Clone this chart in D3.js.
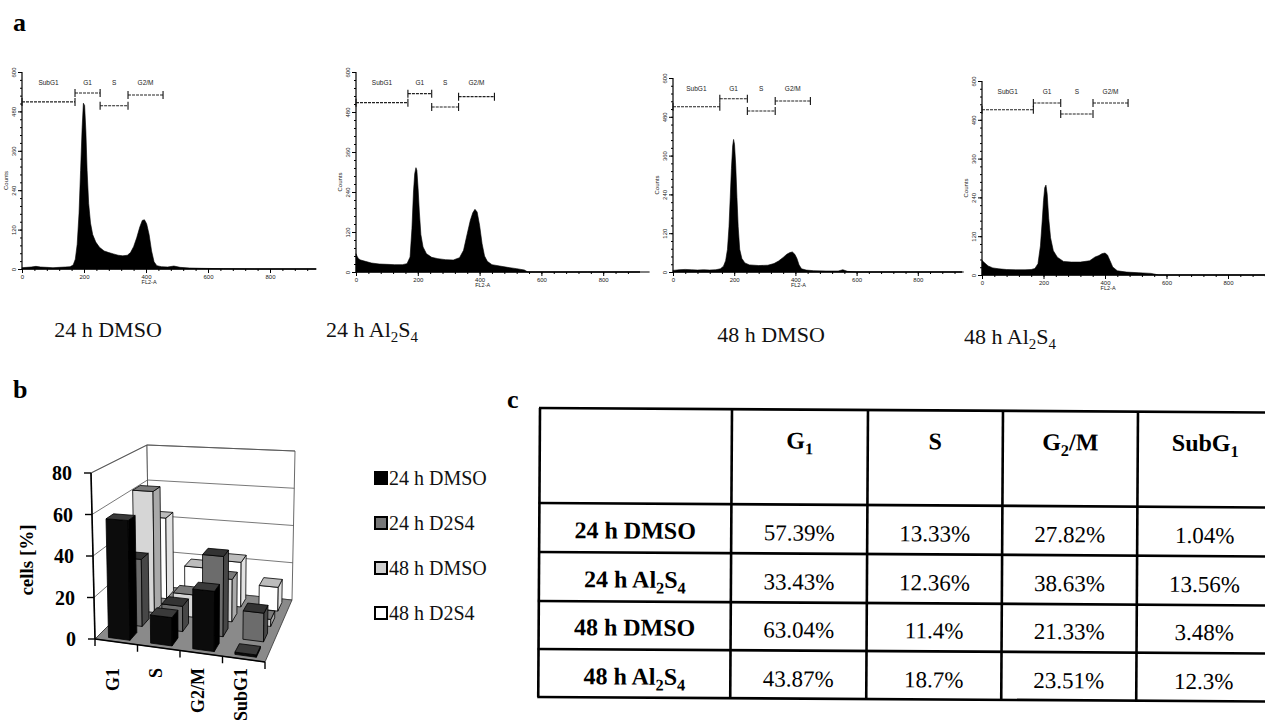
<!DOCTYPE html>
<html><head><meta charset="utf-8">
<script src="https://cdn.jsdelivr.net/npm/d3@7/dist/d3.min.js"></script>
<style>html,body{margin:0;padding:0;background:#fff;}svg{display:block;}</style>
</head><body>
<svg id="fig" width="1265" height="723" xmlns="http://www.w3.org/2000/svg"></svg>
<script>
// ================= DATA =================
const groups = ["24 h DMSO", "24 h Al_2S_4", "48 h DMSO", "48 h Al_2S_4"];
const legendLabels = ["24 h DMSO", "24 h D2S4", "48 h DMSO", "48 h D2S4"];
const phases = ["G1", "S", "G2/M", "SubG1"];
const tableHeaders = ["G_1", "S", "G_2/M", "SubG_1"];
const dmso24 = [57.39, 13.33, 27.82, 1.04];
const al24   = [33.43, 12.36, 38.63, 13.56];
const dmso48 = [63.04, 11.4, 21.33, 3.48];
const al48   = [43.87, 18.7, 23.51, 12.3];
const seriesValues = [dmso24, al24, dmso48, al48];
const cellTicks = [0, 20, 40, 60, 80];

const gateNames = ["SubG1", "G1", "S", "G2/M"];
const histXTicks = [0, 200, 400, 600, 800];
const histYTicks = [0, 120, 240, 360, 480, 600];

// histogram profiles (FL2-A channel, counts)
const h1Channels = [0,15,30,45,60,80,100,120,140,155, 165,172,178,184,189,194,198,202,206,210, 215,221,228,238,250,265,280,295,310,325, 340,350,360,370,380,388,395,402,410,418, 426,435,450,470,490,510,540,580,650,750, 950];
const h1Counts   = [4,5,6,8,6,5,4,5,6,7, 12,30,75,170,300,430,505,498,420,300, 200,140,105,82,66,55,50,46,42,40, 42,50,68,95,128,148,150,138,105,55, 22,10,7,6,9,5,3,2,1,0, 0];
const h2Channels = [0,3,8,15,30,50,75,100,125,150, 165,175,181,186,190,194,197,201,205,210, 217,228,245,265,290,315,335,348,360,370, 378,385,392,400,408,416,425,440,465,490, 520,545,556,580,750,950];
const h2Counts   = [55,48,40,36,32,27,24,23,22,22, 25,45,130,240,295,313,305,250,180,112, 75,55,44,40,37,36,43,65,115,155, 178,188,180,140,85,48,32,22,18,14, 10,6,0,0,0,0];
const h3Channels = [0,20,40,60,80,100,120,140,155,165, 172,178,183,187,191,195,198,201,205,209, 213,218,225,235,250,280,310,330,345,360, 372,382,390,398,405,412,420,435,460,500, 540,555,570,600,950];
const h3Counts   = [5,7,8,7,6,7,6,7,10,18, 35,70,140,230,320,390,410,395,330,230, 140,70,42,28,22,20,21,26,34,45, 55,60,62,55,42,22,10,6,4,3, 3,7,2,0,0];
const h4Channels = [0,4,10,20,35,55,80,110,140,160, 172,182,190,196,200,204,208,212,217,223, 232,245,265,290,320,350,368,380,390,400, 408,416,425,440,470,510,550,575,950];
const h4Counts   = [45,42,36,28,22,19,17,16,16,17, 20,35,90,170,230,270,278,250,175,115, 75,55,42,40,40,44,56,60,66,68, 62,45,25,13,9,7,5,0,0];
const histChannels = [h1Channels, h2Channels, h3Channels, h4Channels];
const histCounts = [h1Counts, h2Counts, h3Counts, h4Counts];

// gate markers [start channel, end channel, marker level in counts]
const h1Gates = [[0,171,509],[171,252,536],[252,342,497],[342,455,530]];
const h2Gates = [[0,168,508],[168,245,535],[245,332,495],[332,448,526]];
const h3Gates = [[0,153,511],[153,243,536],[243,334,498],[334,449,529]];
const h4Gates = [[0,167,511],[167,256,532],[256,361,498],[361,475,532]];
const histGates = [h1Gates, h2Gates, h3Gates, h4Gates];

// ================= LAYOUT =================
const serif = "'Liberation Serif','Times New Roman',serif";
const sans = "'Liberation Sans',Arial,sans-serif";
const svg = d3.select("#fig");

function rich(sel, str, size){
  const parts = str.split(/_(\d)/);
  let down = false;
  parts.forEach((p,i)=>{
    if(p === "") return;
    const isSub = i % 2 === 1;
    const t = sel.append("tspan").text(p);
    if(isSub){ t.attr("font-size", size*0.68); if(!down){ t.attr("dy", size*0.24); down = true; } }
    else { t.attr("font-size", size); if(down){ t.attr("dy", -size*0.24); down = false; } }
  });
}

// panel letters
[["a",13,31],["b",13,398],["c",507,408]].forEach(([l,x,y])=>{
  svg.append("text").attr("x",x).attr("y",y).attr("font-family",serif).attr("font-weight","bold")
    .attr("font-size",26).text(l);
});

// ================= PANEL A: histograms =================
const histLayout = [
  {x0:22,  kx:0.310,  base:269, top:72, xEnd:316,  capX:108,  capY:337},
  {x0:356, kx:0.309,  base:272, top:72, xEnd:640,  capX:372,  capY:337},
  {x0:673, kx:0.306,  base:272, top:78, xEnd:962,  capX:771,  capY:342},
  {x0:982, kx:0.3075, base:275, top:81, xEnd:1265, capX:1010, capY:344}
];

histLayout.forEach((L,k)=>{
  const g = svg.append("g");
  const x = d3.scaleLinear().domain([0,1000]).range([L.x0, L.x0 + 1000*L.kx]);
  const y = d3.scaleLinear().domain([0,600]).range([L.base, L.top]);
  const pts = histChannels[k].map((c,i)=>[c, histCounts[k][i]]);
  g.append("path").datum(pts)
    .attr("d", d3.area().x(d=>x(d[0])).y0(y(0)).y1(d=>y(d[1])))
    .attr("fill","#000").attr("stroke","#000").attr("stroke-width",0.6);

  // x axis
  const ax = g.append("g").attr("transform",`translate(0,${L.base})`)
    .call(d3.axisBottom(x).tickValues(histXTicks).tickSize(4).tickFormat(d3.format("d")));
  ax.select(".domain").remove();
  ax.selectAll("text").attr("font-size",6).attr("font-family",sans).attr("y",6).attr("fill","#222");
  const axm = g.append("g").attr("transform",`translate(0,${L.base})`)
    .call(d3.axisBottom(x).tickValues(d3.range(0, (L.xEnd-L.x0)/L.kx, 40)).tickSize(2).tickFormat(""));
  axm.select(".domain").remove();
  g.append("line").attr("x1",L.x0).attr("x2",L.xEnd).attr("y1",L.base).attr("y2",L.base)
    .attr("stroke","#000").attr("stroke-width",1.6);
  g.append("text").attr("x",x(410)).attr("y",L.base+15).attr("text-anchor","middle")
    .attr("font-family",sans).attr("font-size",5.5).attr("fill","#222").text("FL2-A");

  // y axis
  const ay = g.append("g").attr("transform",`translate(${L.x0},0)`)
    .call(d3.axisLeft(y).tickValues(histYTicks).tickSize(4));
  ay.select(".domain").remove();
  ay.selectAll("text").attr("font-size",6).attr("font-family",sans).attr("x",0).attr("dy",0)
    .attr("text-anchor","middle").attr("transform","translate(-6,0) rotate(-90)").attr("fill","#222");
  const aym = g.append("g").attr("transform",`translate(${L.x0},0)`)
    .call(d3.axisLeft(y).tickValues(d3.range(0,600,24)).tickSize(2).tickFormat(""));
  aym.select(".domain").remove();
  g.append("line").attr("x1",L.x0).attr("x2",L.x0).attr("y1",L.base).attr("y2",L.top)
    .attr("stroke","#000").attr("stroke-width",1.2);
  g.append("text").attr("transform",`translate(${L.x0-14},${(L.top+L.base)/2+10}) rotate(-90)`)
    .attr("text-anchor","middle").attr("font-family",sans).attr("font-size",6).attr("fill","#222").text("Counts");

  // gates
  histGates[k].forEach((gt,m)=>{
    const [s,e,lv] = gt; const yy = y(lv);
    g.append("line").attr("x1",x(s)).attr("x2",x(e)).attr("y1",yy).attr("y2",yy)
      .attr("stroke","#222").attr("stroke-width",1.1).attr("stroke-dasharray","3,1");
    [s,e].forEach(c=> g.append("line").attr("x1",x(c)).attr("x2",x(c)).attr("y1",yy-4).attr("y2",yy+4)
      .attr("stroke","#111").attr("stroke-width",1.1));
    g.append("text").attr("x",(x(s)+x(e))/2).attr("y",L.top+13).attr("text-anchor","middle")
      .attr("font-family",sans).attr("font-size",6.5).attr("fill","#222").text(gateNames[m]);
  });

  // caption
  const t = svg.append("text").attr("x",L.capX).attr("y",L.capY).attr("text-anchor","middle")
    .attr("font-family",serif).attr("font-size",22).attr("fill","#111");
  rich(t, groups[k], 22);
});

// ================= PANEL B: 3D bar chart =================
const box = {FLB:[95,639], FLT:[91,473], FRB:[265,662], FRT:[268,483],
             BLB:[149,585], BLT:[147,445], BRB:[292,600], BRT:[295,451]};
const uBand = d3.scaleBand().domain(phases).range([0,1]);
const wBand = d3.scaleBand().domain(legendLabels).range([0,1]);
const vLin = d3.scaleLinear().domain([0,80]).range([0,1]);
const lerp = (a,b,t)=>[a[0]+(b[0]-a[0])*t, a[1]+(b[1]-a[1])*t];
function P(u,v,w){
  const f = lerp(lerp(box.FLB, box.FRB, u), lerp(box.FLT, box.FRT, u), v);
  const b = lerp(lerp(box.BLB, box.BRB, u), lerp(box.BLT, box.BRT, u), v);
  return lerp(f,b,w);
}
const poly = pts => "M" + pts.map(p=>p[0].toFixed(2)+","+p[1].toFixed(2)).join("L") + "Z";
const pline = pts => "M" + pts.map(p=>p[0].toFixed(2)+","+p[1].toFixed(2)).join("L");

const gb = svg.append("g");
gb.append("path").attr("d", poly([P(0,0,0),P(0,0,1),P(0,1,1),P(0,1,0)])).attr("fill","#fff").attr("stroke","#444").attr("stroke-width",0.8);
gb.append("path").attr("d", poly([P(0,0,1),P(1,0,1),P(1,1,1),P(0,1,1)])).attr("fill","#fff").attr("stroke","#444").attr("stroke-width",0.8);
cellTicks.filter(t=>t>0).forEach(t=>{
  const v = vLin(t);
  gb.append("path").attr("d", pline([P(0,v,0),P(0,v,1),P(1,v,1)])).attr("fill","none")
    .attr("stroke","#555").attr("stroke-width",0.8);
});
gb.append("path").attr("d", poly([P(0,0,0),P(1,0,0),P(1,0,1),P(0,0,1)])).attr("fill","#8a8a8a").attr("stroke","#333").attr("stroke-width",0.8);

const frontC = ["#0c0c0c","#6c6c6c","#d6d6d6","#ffffff"];
const sideC  = ["#000000","#474747","#a9a9a9","#e2e2e2"];
const topC   = ["#3a3a3a","#333333","#7a7a7a","#bcbcbc"];
const bars = [];
legendLabels.forEach((s,j)=> phases.forEach((p,i)=> bars.push({j,i,s,p,val:seriesValues[j][i]})));
bars.sort((a,b)=> (b.j - a.j) || (a.i - b.i));
const bw = uBand.bandwidth(), bd = wBand.bandwidth();
gb.selectAll("g.bar").data(bars).join("g").attr("class","bar").each(function(d){
  const u0 = uBand(d.p) + bw*0.25, u1 = uBand(d.p) + bw*0.76;
  const w0 = wBand(d.s) + bd*0.22, w1 = wBand(d.s) + bd*0.78;
  const v = vLin(d.val);
  const g = d3.select(this);
  const add = (pts,fill)=> g.append("path").attr("d",poly(pts)).attr("fill",fill)
    .attr("stroke","#000").attr("stroke-width",0.8).attr("stroke-linejoin","round");
  add([P(u0,0,w0),P(u1,0,w0),P(u1,v,w0),P(u0,v,w0)], frontC[d.j]);
  add([P(u1,0,w0),P(u1,0,w1),P(u1,v,w1),P(u1,v,w0)], sideC[d.j]);
  add([P(u0,v,w0),P(u1,v,w0),P(u1,v,w1),P(u0,v,w1)], topC[d.j]);
});

// axes
gb.append("path").attr("d", pline([P(0,0,0),P(0,1,0)])).attr("stroke","#000").attr("stroke-width",1.6).attr("fill","none");
gb.append("path").attr("d", pline([P(0,0,0),P(1,0,0)])).attr("stroke","#000").attr("stroke-width",1.6).attr("fill","none");
cellTicks.forEach(t=>{
  const p = P(0,vLin(t),0);
  gb.append("line").attr("x1",p[0]-7).attr("x2",p[0]).attr("y1",p[1]).attr("y2",p[1]).attr("stroke","#000").attr("stroke-width",1.4);
  gb.append("text").attr("x",p[0]-19).attr("y",p[1]+7).attr("text-anchor","end")
    .attr("font-family",serif).attr("font-weight","bold").attr("font-size",20).text(t);
});
phases.map(p=>uBand(p)).concat([1]).forEach(u=>{
  const p = P(u,0,0);
  gb.append("line").attr("x1",p[0]).attr("x2",p[0]).attr("y1",p[1]).attr("y2",p[1]+7).attr("stroke","#000").attr("stroke-width",1.4);
});
phases.forEach(ph=>{
  const c = P(uBand(ph)+bw/2, 0, 0);
  gb.append("text").attr("transform",`translate(${c[0]+3},668) rotate(-90)`).attr("text-anchor","end")
    .attr("font-family",serif).attr("font-weight","bold").attr("font-size",18).text(ph);
});
gb.append("text").attr("transform","translate(33,560) rotate(-90)").attr("text-anchor","middle")
  .attr("font-family",serif).attr("font-weight","bold").attr("font-size",19).text("cells [%]");

// legend
const legFill = ["#000","#777","#cfcfcf","#fff"];
legendLabels.forEach((lab,j)=>{
  const cy = 478 + j*45;
  svg.append("rect").attr("x",375).attr("y",cy-6).attr("width",12).attr("height",12)
    .attr("fill",legFill[j]).attr("stroke","#000").attr("stroke-width",2);
  svg.append("text").attr("x",389).attr("y",cy+7).attr("font-family",serif).attr("font-size",20)
    .attr("fill","#111").text(lab);
});

// ================= PANEL C: table =================
const colEdges = [540,732,868,1003,1138,1273];
const rowEdges = [408,503,552,601,649,697];
const rowBase = [538,587,635,684];
const tg = svg.append("g").attr("transform","rotate(0.35,540,408)");
rowEdges.forEach(yv=> tg.append("line").attr("x1",colEdges[0]-1).attr("x2",colEdges[5]).attr("y1",yv).attr("y2",yv)
  .attr("stroke","#000").attr("stroke-width",2.6));
colEdges.forEach(xv=> tg.append("line").attr("x1",xv).attr("x2",xv).attr("y1",rowEdges[0]).attr("y2",rowEdges[5])
  .attr("stroke","#000").attr("stroke-width",2.6));
const colMid = i => (colEdges[i]+colEdges[i+1])/2;
tableHeaders.forEach((h,c)=>{
  const t = tg.append("text").attr("x",colMid(c+1)).attr("y",447).attr("text-anchor","middle")
    .attr("font-family",serif).attr("font-weight","bold").attr("font-size",24);
  rich(t,h,24);
});
groups.forEach((gname,r)=>{
  const t = tg.append("text").attr("x",colMid(0)).attr("y",rowBase[r]).attr("text-anchor","middle")
    .attr("font-family",serif).attr("font-weight","bold").attr("font-size",24);
  rich(t,gname,24);
  seriesValues[r].forEach((v,c)=>{
    tg.append("text").attr("x",colMid(c+1)).attr("y",rowBase[r]+1).attr("text-anchor","middle")
      .attr("font-family",serif).attr("font-size",23).text(String(v)+"%");
  });
});
</script>
</body></html>
